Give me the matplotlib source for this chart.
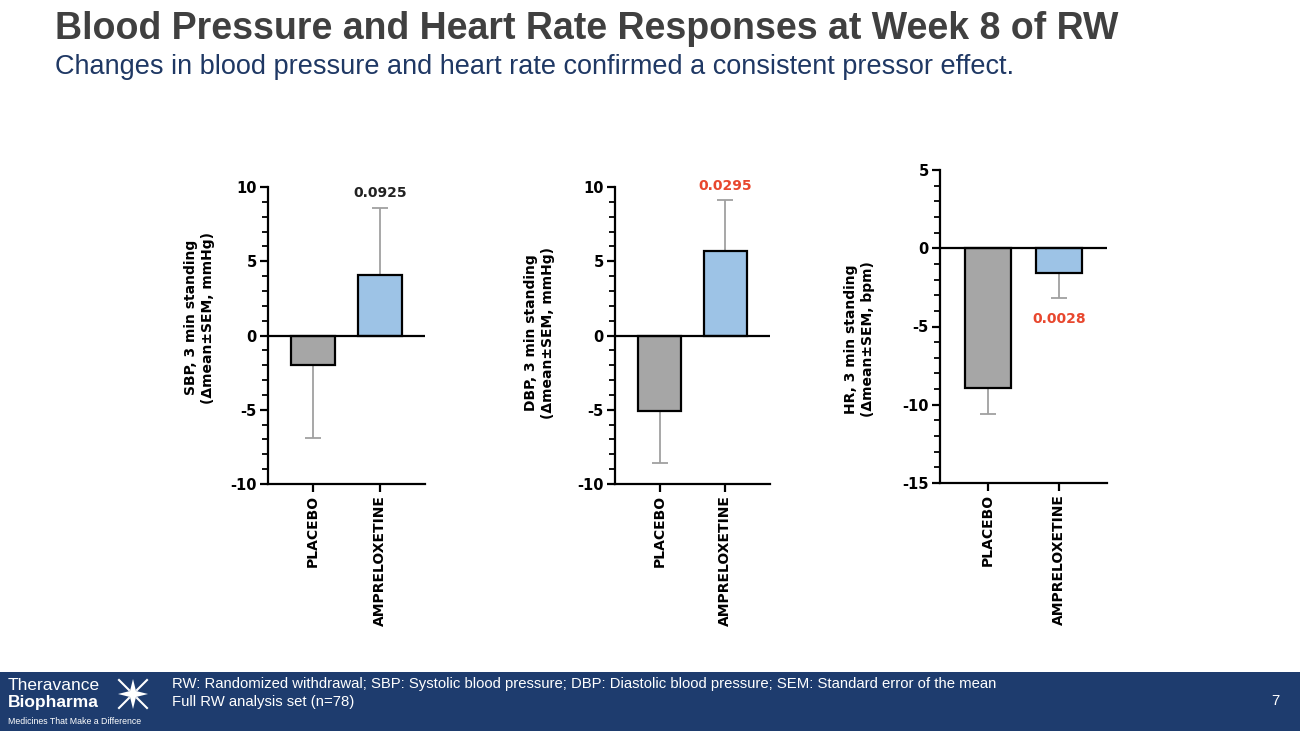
import numpy as np
import matplotlib
matplotlib.use("Agg")
import matplotlib.pyplot as plt
from matplotlib.patches import Rectangle, Polygon
from matplotlib.ticker import MultipleLocator

plt.rcParams["axes.unicode_minus"] = False

# data
groups = ["PLACEBO", "AMPRELOXETINE"]
sbp_mean = [-2.0, 4.1]
sbp_sem = [4.9, 4.5]
dbp_mean = [-5.1, 5.7]
dbp_sem = [3.5, 3.4]
hr_mean = [-8.9, -1.6]
hr_sem = [1.7, 1.6]
p_values = ["0.0925", "0.0295", "0.0028"]
p_colors = ["#222222", "#E8472E", "#E8472E"]
y_labels = ["SBP, 3 min standing\n(Δmean±SEM, mmHg)",
            "DBP, 3 min standing\n(Δmean±SEM, mmHg)",
            "HR, 3 min standing\n(Δmean±SEM, bpm)"]
y_limits = [(-10, 10), (-10, 10), (-15, 5)]

bar_colors = ["#A6A6A6", "#9DC3E6"]
W, H = 1300, 731

fig = plt.figure(figsize=(13, 7.31), dpi=100)

# title block
fig.text(55 / W, 1 - 29 / H, "Blood Pressure and Heart Rate Responses at Week 8 of RW",
         fontfamily="Liberation Sans", fontweight="bold", fontsize=27,
         color="#404040", va="center", ha="left")
fig.text(55 / W, 1 - 67 / H, "Changes in blood pressure and heart rate confirmed a consistent pressor effect.",
         fontfamily="Liberation Sans", fontsize=19.5, color="#1F3864",
         va="center", ha="left")

# axes boxes in pixels: left, right, top, bottom
boxes = [(268, 425, 187, 484), (615, 770, 187, 484), (940, 1107, 170, 483)]
label_pos = [(-0.34, 0.56), (-0.39, 0.51), (-0.39, 0.46)]
means = [sbp_mean, dbp_mean, hr_mean]
sems = [sbp_sem, dbp_sem, hr_sem]

for i in range(3):
    l, r, t, b = boxes[i]
    ax = fig.add_axes([l / W, 1 - b / H, (r - l) / W, (b - t) / H])
    m = np.array(means[i])
    s = np.array(sems[i])
    x = np.arange(len(groups))
    lower = np.where(m < 0, s, 0)
    upper = np.where(m >= 0, s, 0)
    ax.errorbar(x, m, yerr=[lower, upper], fmt="none", ecolor="#A0A0A0",
                elinewidth=1.3, capsize=6, capthick=1.3, zorder=1)
    ax.bar(x, m, width=0.66, color=bar_colors, edgecolor="black",
           linewidth=1.6, zorder=2)
    ax.axhline(0, color="black", linewidth=1.6, zorder=3)

    ax.set_xlim(-0.68, 1.68)
    ax.set_ylim(*y_limits[i])
    ax.yaxis.set_major_locator(MultipleLocator(5))
    ax.yaxis.set_minor_locator(MultipleLocator(1))
    ax.set_xticks(x)
    ax.set_xticklabels(groups, rotation=90, fontweight="bold", fontsize=10)
    for lab in ax.get_yticklabels():
        lab.set_fontweight("bold")
        lab.set_fontsize(10.5)
    ax.tick_params(axis="y", which="major", length=6, width=1.6, pad=2)
    ax.tick_params(axis="y", which="minor", length=4, width=1.3)
    ax.tick_params(axis="x", which="major", length=6, width=1.6, pad=2)
    for side in ["top", "right"]:
        ax.spines[side].set_visible(False)
    for side in ["left", "bottom"]:
        ax.spines[side].set_linewidth(1.6)
    ax.patch.set_alpha(0)

    ax.set_ylabel(y_labels[i], fontweight="bold", fontsize=10, linespacing=1.25)
    ax.yaxis.set_label_coords(*label_pos[i])

    # p-value above/below the error bar of ampreloxetine
    if m[1] >= 0:
        ty = m[1] + upper[1] + 1.0
    else:
        ty = m[1] - lower[1] - 1.3
    ax.text(1, ty, p_values[i], ha="center", va="center", fontweight="bold",
            fontsize=10, color=p_colors[i], clip_on=False)

# footer band
fig.patches.append(Rectangle((0, 0), 1, 59 / H, transform=fig.transFigure,
                             facecolor="#1E3C6E", edgecolor="none", zorder=0))
fig.text(172 / W, 1 - 684 / H,
         "RW: Randomized withdrawal; SBP: Systolic blood pressure; DBP: Diastolic blood pressure; SEM: Standard error of the mean",
         fontfamily="Liberation Sans", fontsize=10.7, color="white", va="center")
fig.text(172 / W, 1 - 702 / H, "Full RW analysis set (n=78)",
         fontfamily="Liberation Sans", fontsize=10.7, color="white", va="center")
fig.text(1275 / W, 1 - 701 / H, "7", fontfamily="Liberation Sans", fontsize=10.7,
         color="white", va="center", ha="center")

# logo
fig.text(8 / W, 1 - 685 / H, "Theravance", fontfamily="Liberation Sans",
         fontsize=12.5, color="white", va="center")
fig.text(8 / W, 1 - 703 / H, "Biopharma", fontfamily="Liberation Sans",
         fontweight="bold", fontsize=12.5, color="white", va="center")
fig.text(8 / W, 1 - 721 / H, "Medicines That Make a Difference",
         fontfamily="Liberation Sans", fontsize=6.3, color="white", va="center")
cx, cy = 133, 694
star = [(cx, cy - 15), (cx + 3, cy - 3), (cx + 15, cy), (cx + 3, cy + 3),
        (cx, cy + 15), (cx - 3, cy + 3), (cx - 15, cy), (cx - 3, cy - 3)]
fig.patches.append(Polygon([(px / W, 1 - py / H) for px, py in star],
                           closed=True, transform=fig.transFigure,
                           facecolor="white", edgecolor="none"))
for dx, dy in [(1, 1), (1, -1), (-1, 1), (-1, -1)]:
    fig.add_artist(plt.Line2D([(cx + 4 * dx) / W, (cx + 14 * dx) / W],
                              [1 - (cy + 4 * dy) / H, 1 - (cy + 14 * dy) / H],
                              transform=fig.transFigure, color="white", linewidth=1.5))

fig.savefig("out.png", dpi=100, facecolor="white")
